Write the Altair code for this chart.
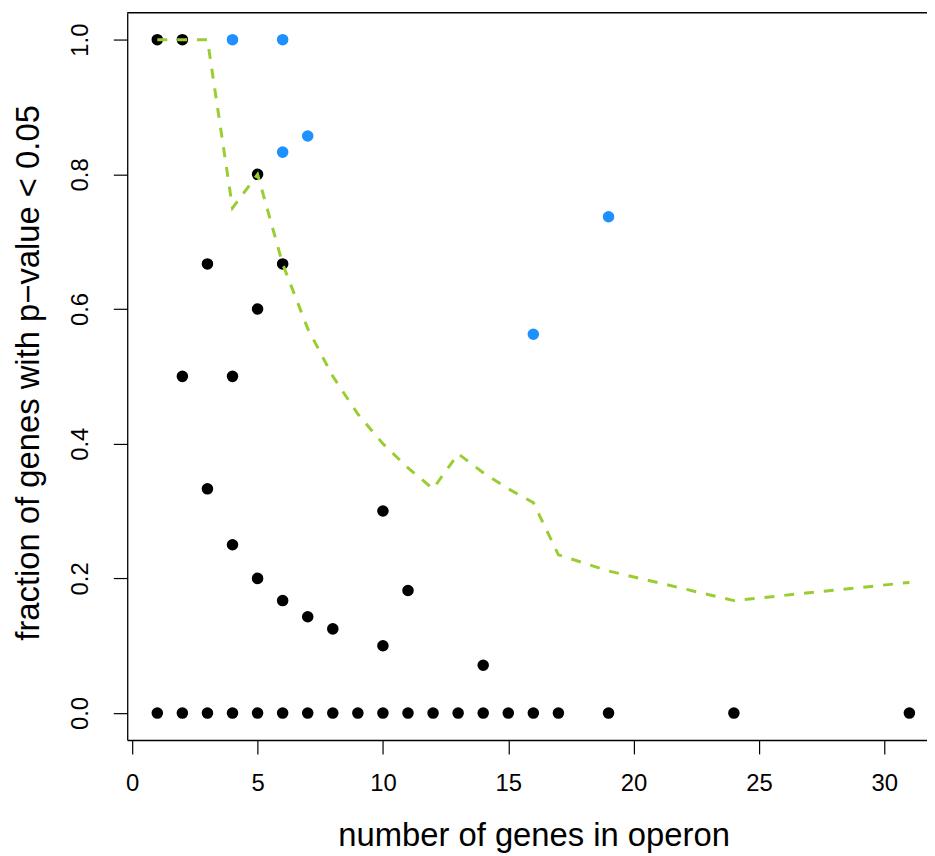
import altair as alt
import pandas as pd

# black points (significant fraction per operon)
black_x = [1, 2, 2, 3, 3, 4, 4, 5, 5, 5, 6, 6, 7, 8, 10, 10, 11, 14,
           1, 2, 3, 4, 5, 6, 7, 8, 9, 10, 11, 12, 13, 14, 15, 16, 17, 19, 24, 31]
black_y = [1.0, 1.0, 0.5, 0.667, 0.333, 0.5, 0.25, 0.8, 0.6, 0.2, 0.667, 0.167, 0.143, 0.125, 0.3, 0.1, 0.182, 0.071,
           0, 0, 0, 0, 0, 0, 0, 0, 0, 0, 0, 0, 0, 0, 0, 0, 0, 0, 0, 0]

# blue points
blue_x = [4, 6, 6, 7, 16, 19]
blue_y = [1.0, 1.0, 0.833, 0.857, 0.5625, 0.737]

# dashed green line
line_x = [1, 2, 3, 4, 5, 6, 7, 8, 9, 10, 11, 12, 13, 14, 15, 16, 17, 19, 24, 31]
line_y = [1.0, 1.0, 1.0, 0.75, 0.8, 0.667, 0.571, 0.5, 0.444, 0.4, 0.364, 0.333, 0.385, 0.357, 0.333,
          0.3125, 0.235, 0.211, 0.167, 0.194]

x_ticks = [0, 5, 10, 15, 20, 25, 30]
y_ticks = [0.0, 0.2, 0.4, 0.6, 0.8, 1.0]

df_black = pd.DataFrame({"x": black_x, "y": black_y})
df_blue = pd.DataFrame({"x": blue_x, "y": blue_y})
df_line = pd.DataFrame({"x": line_x, "y": line_y})

W, H = 805, 732
FONT = "Liberation Sans"

xscale = alt.Scale(domain=[-0.2, 31.703], nice=False, zero=False)
yscale = alt.Scale(domain=[-0.04, 1.04], nice=False, zero=False)

xaxis = alt.Axis(values=x_ticks, format="d", title="number of genes in operon",
                 tickSize=14, tickColor="black", tickWidth=1.2,
                 domainColor="black", domainWidth=1.3,
                 labelFont=FONT, labelFontSize=24, labelColor="black",
                 labelBaseline="alphabetic", labelPadding=37, labelFlush=False,
                 titleFont=FONT, titleFontSize=33, titleFontWeight="normal", titleColor="black",
                 titleBaseline="alphabetic", titleX=409, titleY=106, titleAlign="center",
                 grid=False)
yaxis = alt.Axis(values=y_ticks, format=".1f", title="fraction of genes with p\u2212value < 0.05",
                 tickSize=14, tickColor="black", tickWidth=1.2,
                 domainColor="black", domainWidth=1.3,
                 labelFont=FONT, labelFontSize=24, labelColor="black",
                 labelAngle=270, labelAlign="center", labelBaseline="alphabetic",
                 labelPadding=26, labelFlush=False,
                 titleFont=FONT, titleFontSize=33, titleFontWeight="normal", titleColor="black",
                 titleAngle=270, titleAlign="center", titleBaseline="alphabetic",
                 titleX=-89, titleY=362,
                 grid=False)

black = alt.Chart(df_black).mark_circle(size=135, color="black", opacity=1).encode(
    x=alt.X("x:Q", scale=xscale, axis=xaxis),
    y=alt.Y("y:Q", scale=yscale, axis=yaxis),
)
blue = alt.Chart(df_blue).mark_circle(size=135, color="#1E90FF", opacity=1).encode(
    x=alt.X("x:Q", scale=xscale),
    y=alt.Y("y:Q", scale=yscale),
)
line = alt.Chart(df_line).mark_line(color="#9ACD32", strokeWidth=3, strokeDash=[10, 10]).encode(
    x=alt.X("x:Q", scale=xscale),
    y=alt.Y("y:Q", scale=yscale),
)
top_border = alt.Chart(pd.DataFrame({"a": [0]})).mark_rule(color="black", strokeWidth=1.3).encode(
    x=alt.value(0), x2=alt.value(W), y=alt.value(0)
)

chart = alt.layer(black, blue, line, top_border).properties(
    width=W, height=H,
    autosize=alt.AutoSizeParams(type="none"),
    padding={"left": 120, "top": 2, "right": 0, "bottom": 114},
    background="white",
).configure_view(stroke=None)

chart.save("out.html", embed_options={"renderer": "svg", "actions": False})
